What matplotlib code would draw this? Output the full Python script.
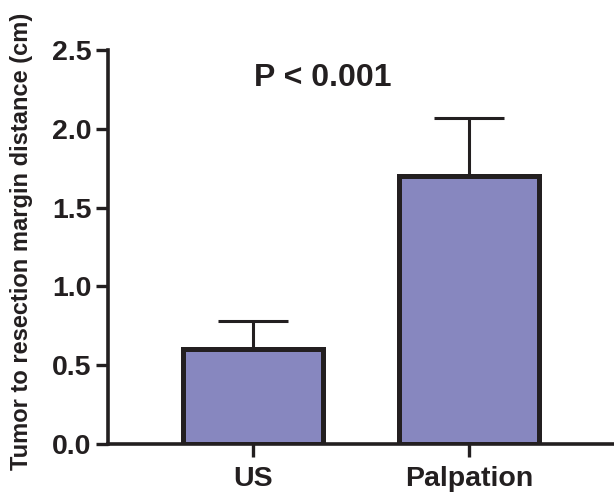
import matplotlib
matplotlib.use('Agg')
import matplotlib.pyplot as plt

# datos
groups = ['US', 'Palpation']
means = [0.60, 1.70]
sd_upper = [0.18, 0.37]
y_ticks = [0.0, 0.5, 1.0, 1.5, 2.0, 2.5]

INK = '#231f20'

plt.rcParams['font.family'] = ['Liberation Sans', 'DejaVu Sans']
plt.rcParams['font.weight'] = 'bold'

fig = plt.figure(figsize=(6.14, 4.98), dpi=100)
ax = fig.add_axes([0.176, 0.1084, 0.824, 0.7912])

x = list(range(len(groups)))
ax.errorbar(x, means, yerr=[[0] * len(means), sd_upper], fmt='none',
            ecolor=INK, elinewidth=2.2, capsize=25, capthick=2.2, zorder=1)
ax.bar(x, means, width=0.648, color='#8787bf', edgecolor=INK,
       linewidth=3.6, zorder=2)

ax.set_xlim(-0.671, 1.671)
ax.set_ylim(0, 2.5)
ax.set_yticks(y_ticks)
ax.set_yticklabels([f'{v:.1f}' for v in y_ticks])
ax.set_xticks(x)
ax.set_xticklabels(groups)

for s in ['top', 'right']:
    ax.spines[s].set_visible(False)
for s in ['left', 'bottom']:
    ax.spines[s].set_linewidth(2.6)
    ax.spines[s].set_color(INK)
ax.tick_params(axis='both', length=9, width=2.4, color=INK,
               labelcolor=INK, labelsize=20.5)
ax.tick_params(axis='y', pad=3)
ax.tick_params(axis='x', pad=7)

ax.set_ylabel('Tumor to resection margin distance (cm)', fontsize=17,
              fontweight='bold', color=INK, va='center')
ax.yaxis.set_label_coords(-0.172, 0.515)
ax.text(0.425, 0.93, 'P < 0.001', transform=ax.transAxes, color=INK,
        fontsize=23, fontweight='bold', ha='center', va='center')

fig.savefig('out.png', dpi=100)
